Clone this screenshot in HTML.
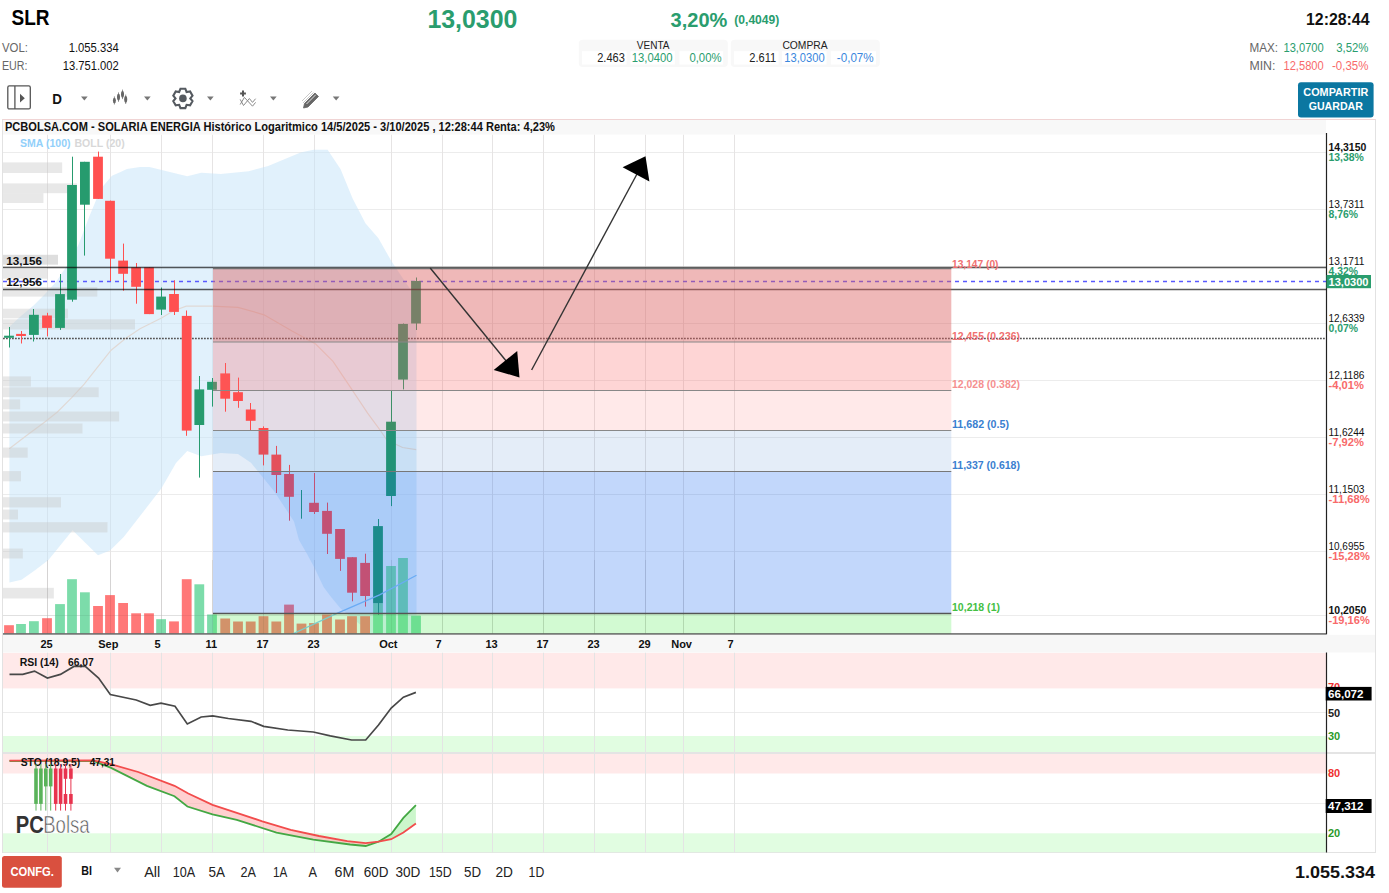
<!DOCTYPE html>
<html><head><meta charset="utf-8"><style>html,body{margin:0;padding:0;background:#fff;overflow:hidden}svg{display:block}text{font-family:"Liberation Sans",sans-serif}</style></head>
<body><svg width="1389" height="893" viewBox="0 0 1389 893" font-family="Liberation Sans, sans-serif"><text x="11.5" y="25.3" font-size="22" font-weight="bold" fill="#000" text-anchor="start" textLength="38" lengthAdjust="spacingAndGlyphs" >SLR</text>
<text x="2" y="51.5" font-size="12" font-weight="normal" fill="#666" text-anchor="start" textLength="26" lengthAdjust="spacingAndGlyphs" >VOL:</text>
<text x="118.7" y="51.5" font-size="12" font-weight="normal" fill="#111" text-anchor="end" textLength="50" lengthAdjust="spacingAndGlyphs" >1.055.334</text>
<text x="2" y="69.8" font-size="12" font-weight="normal" fill="#666" text-anchor="start" textLength="25.5" lengthAdjust="spacingAndGlyphs" >EUR:</text>
<text x="118.7" y="69.8" font-size="12" font-weight="normal" fill="#111" text-anchor="end" textLength="56" lengthAdjust="spacingAndGlyphs" >13.751.002</text>
<text x="427.4" y="27.5" font-size="25" font-weight="bold" fill="#2a9d6e" text-anchor="start" textLength="90" lengthAdjust="spacingAndGlyphs" >13,0300</text>
<text x="670.6" y="26.7" font-size="21" font-weight="bold" fill="#2a9d6e" text-anchor="start" textLength="56.7" lengthAdjust="spacingAndGlyphs" >3,20%</text>
<text x="734.3" y="23.9" font-size="12" font-weight="bold" fill="#2a9d6e" text-anchor="start" textLength="45" lengthAdjust="spacingAndGlyphs" >(0,4049)</text>
<text x="1369.5" y="24.6" font-size="16" font-weight="bold" fill="#111" text-anchor="end" textLength="63.5" lengthAdjust="spacingAndGlyphs" >12:28:44</text>
<rect x="578.8" y="39.7" width="149" height="27.2" rx="4" fill="#f8f8f8"/>
<text x="636.8" y="48.9" font-size="11" font-weight="normal" fill="#222" text-anchor="start" textLength="32.7" lengthAdjust="spacingAndGlyphs" >VENTA</text>
<rect x="582" y="51.2" width="44.5" height="13.4" fill="#fff"/>
<text x="624.8" y="62.3" font-size="12" font-weight="normal" fill="#222" text-anchor="end" textLength="27.6" lengthAdjust="spacingAndGlyphs" >2.463</text>
<rect x="630.4" y="51.2" width="44.39999999999998" height="13.4" fill="#fff"/>
<text x="672.5" y="62.3" font-size="12" font-weight="normal" fill="#2a9d6e" text-anchor="end" textLength="40.7" lengthAdjust="spacingAndGlyphs" >13,0400</text>
<rect x="679.4" y="51.2" width="43.80000000000007" height="13.4" fill="#fff"/>
<text x="721.6" y="62.3" font-size="12" font-weight="normal" fill="#2a9d6e" text-anchor="end" textLength="32.2" lengthAdjust="spacingAndGlyphs" >0,00%</text>
<rect x="730.8" y="39.7" width="149" height="27.2" rx="4" fill="#f8f8f8"/>
<text x="782.4" y="48.9" font-size="11" font-weight="normal" fill="#222" text-anchor="start" textLength="45.2" lengthAdjust="spacingAndGlyphs" >COMPRA</text>
<rect x="734" y="51.2" width="44.5" height="13.4" fill="#fff"/>
<text x="776.2" y="62.3" font-size="12" font-weight="normal" fill="#222" text-anchor="end" textLength="26.9" lengthAdjust="spacingAndGlyphs" >2.611</text>
<rect x="782" y="51.2" width="44.5" height="13.4" fill="#fff"/>
<text x="824.6" y="62.3" font-size="12" font-weight="normal" fill="#3a87dd" text-anchor="end" textLength="40.3" lengthAdjust="spacingAndGlyphs" >13,0300</text>
<rect x="830.8" y="51.2" width="45.200000000000045" height="13.4" fill="#fff"/>
<text x="873.7" y="62.3" font-size="12" font-weight="normal" fill="#3a87dd" text-anchor="end" textLength="36.9" lengthAdjust="spacingAndGlyphs" >-0,07%</text>
<text x="1249.4" y="51.6" font-size="12" font-weight="normal" fill="#666" text-anchor="start" textLength="28.6" lengthAdjust="spacingAndGlyphs" >MAX:</text>
<text x="1323.7" y="51.6" font-size="12" font-weight="normal" fill="#2a9d6e" text-anchor="end" textLength="40.2" lengthAdjust="spacingAndGlyphs" >13,0700</text>
<text x="1368.4" y="51.6" font-size="12" font-weight="normal" fill="#2a9d6e" text-anchor="end" textLength="32.2" lengthAdjust="spacingAndGlyphs" >3,52%</text>
<text x="1249.4" y="69.7" font-size="12" font-weight="normal" fill="#666" text-anchor="start" textLength="26" lengthAdjust="spacingAndGlyphs" >MIN:</text>
<text x="1323.7" y="69.7" font-size="12" font-weight="normal" fill="#f86a6a" text-anchor="end" textLength="40.2" lengthAdjust="spacingAndGlyphs" >12,5800</text>
<text x="1368.4" y="69.7" font-size="12" font-weight="normal" fill="#f86a6a" text-anchor="end" textLength="36.4" lengthAdjust="spacingAndGlyphs" >-0,35%</text>
<rect x="1298" y="82.2" width="75.6" height="35.4" rx="3" fill="#0b77a1"/>
<text x="1335.8" y="96.1" font-size="10.5" font-weight="bold" fill="#fff" text-anchor="middle" textLength="64.9" lengthAdjust="spacingAndGlyphs" >COMPARTIR</text>
<text x="1335.8" y="109.7" font-size="10.5" font-weight="bold" fill="#fff" text-anchor="middle" textLength="54.2" lengthAdjust="spacingAndGlyphs" >GUARDAR</text>
<rect x="7.8" y="85.9" width="22.5" height="23" rx="1.5" fill="none" stroke="#555" stroke-width="1.3"/>
<line x1="14.9" y1="86" x2="14.9" y2="109" stroke="#555" stroke-width="1.3"/>
<path d="M20 93.7 L24.8 98.2 L20 102.6 Z" fill="#555"/>
<text x="52.3" y="103.6" font-size="14" font-weight="bold" fill="#111" text-anchor="start" textLength="9.7" lengthAdjust="spacingAndGlyphs" >D</text>
<path d="M81 96.4 L87.7 96.4 L84.35 100.5 Z" fill="#777"/>
<path d="M144 96.4 L150.7 96.4 L147.35 100.5 Z" fill="#777"/>
<path d="M207 96.4 L213.7 96.4 L210.35 100.5 Z" fill="#777"/>
<path d="M270 96.4 L276.7 96.4 L273.35 100.5 Z" fill="#777"/>
<path d="M332.8 96.4 L339.5 96.4 L336.15000000000003 100.5 Z" fill="#777"/>
<line x1="114.4" y1="96.4" x2="114.4" y2="104.5" stroke="#777" stroke-width="0.8"/>
<ellipse cx="114.4" cy="100.45" rx="1.5" ry="2.75" fill="#666"/>
<line x1="118.5" y1="92.4" x2="118.5" y2="101.8" stroke="#777" stroke-width="0.8"/>
<ellipse cx="118.5" cy="97.1" rx="1.5" ry="3.40" fill="#666"/>
<line x1="122.5" y1="89.6" x2="122.5" y2="99.1" stroke="#777" stroke-width="0.8"/>
<ellipse cx="122.5" cy="94.35" rx="1.5" ry="3.45" fill="#666"/>
<line x1="125.7" y1="94.6" x2="125.7" y2="104" stroke="#777" stroke-width="0.8"/>
<ellipse cx="125.7" cy="99.3" rx="1.5" ry="3.40" fill="#666"/>
<polygon points="179.20,91.99 180.48,88.70 185.32,88.70 186.60,91.99 186.60,91.99 190.09,91.45 192.51,95.64 190.30,98.40 190.30,98.40 192.51,101.16 190.09,105.35 186.60,104.81 186.60,104.81 185.32,108.10 180.48,108.10 179.20,104.81 179.20,104.81 175.71,105.35 173.29,101.16 175.50,98.40 175.50,98.40 173.29,95.64 175.71,91.45 179.20,91.99" fill="none" stroke="#555a60" stroke-width="2.1" stroke-linejoin="miter"/>
<circle cx="182.9" cy="98.4" r="3.8" fill="#555a60"/>
<path d="M240.1 93.5 h5.8 M243 90.6 v5.8" stroke="#555" stroke-width="2"/>
<path d="M240.2 104.5 L244.4 97.4 L252.5 106.2 L255.6 102.4" fill="none" stroke="#8a8a8a" stroke-width="1"/>
<path d="M240.2 99.4 L243.5 105.5 L249.4 98.5 L252.5 102.4 L255.6 98.7" fill="none" stroke="#8a8a8a" stroke-width="1"/>
<path d="M304.5 103.5 L315 93 L318.5 96.5 L308 107 L303.5 108 Z" fill="#666" stroke="#666" stroke-width="0.8" stroke-linejoin="round"/>
<path d="M306.5 104 L315.8 94.7" stroke="#fff" stroke-width="0.8"/>
<path d="M302 101 L312 91 M303 103 L313.5 92.5" stroke="#bbb" stroke-width="0.8"/>
<rect x="2.5" y="119.5" width="1373" height="733" fill="#fff" stroke="#e2e2e2" stroke-width="1"/>
<line x1="2.5" y1="119.5" x2="1375.5" y2="119.5" stroke="#f0d4d4" stroke-width="1.2"/>
<rect x="3" y="120" width="1323" height="14.5" fill="#f8f8f8"/>
<defs><clipPath id="plot"><rect x="3" y="134.5" width="1323" height="499.5"/></clipPath><clipPath id="rsi"><rect x="3" y="652.5" width="1323" height="100"/></clipPath><clipPath id="sto"><rect x="3" y="754" width="1323" height="98.5"/></clipPath></defs>
<g clip-path="url(#plot)">
<line x1="3" y1="152.5" x2="1326" y2="152.5" stroke="#ececec" stroke-width="1"/>
<line x1="3" y1="209.5" x2="1326" y2="209.5" stroke="#ececec" stroke-width="1"/>
<line x1="3" y1="266.5" x2="1326" y2="266.5" stroke="#ececec" stroke-width="1"/>
<line x1="3" y1="323.5" x2="1326" y2="323.5" stroke="#ececec" stroke-width="1"/>
<line x1="3" y1="380.5" x2="1326" y2="380.5" stroke="#ececec" stroke-width="1"/>
<line x1="3" y1="437.5" x2="1326" y2="437.5" stroke="#ececec" stroke-width="1"/>
<line x1="3" y1="494.5" x2="1326" y2="494.5" stroke="#ececec" stroke-width="1"/>
<line x1="3" y1="551.5" x2="1326" y2="551.5" stroke="#ececec" stroke-width="1"/>
<line x1="3" y1="615.5" x2="1326" y2="615.5" stroke="#ececec" stroke-width="1"/>
<line x1="47.5" y1="134.5" x2="47.5" y2="634" stroke="#e6e4e4" stroke-width="1"/>
<line x1="110.5" y1="134.5" x2="110.5" y2="634" stroke="#e6e4e4" stroke-width="1"/>
<line x1="161.5" y1="134.5" x2="161.5" y2="634" stroke="#e6e4e4" stroke-width="1"/>
<line x1="212.5" y1="134.5" x2="212.5" y2="634" stroke="#e6e4e4" stroke-width="1"/>
<line x1="263.5" y1="134.5" x2="263.5" y2="634" stroke="#e6e4e4" stroke-width="1"/>
<line x1="314.5" y1="134.5" x2="314.5" y2="634" stroke="#e6e4e4" stroke-width="1"/>
<line x1="391.5" y1="134.5" x2="391.5" y2="634" stroke="#e6e4e4" stroke-width="1"/>
<line x1="442.5" y1="134.5" x2="442.5" y2="634" stroke="#e6e4e4" stroke-width="1"/>
<line x1="492.5" y1="134.5" x2="492.5" y2="634" stroke="#e6e4e4" stroke-width="1"/>
<line x1="543.5" y1="134.5" x2="543.5" y2="634" stroke="#e6e4e4" stroke-width="1"/>
<line x1="594.5" y1="134.5" x2="594.5" y2="634" stroke="#e6e4e4" stroke-width="1"/>
<line x1="645.5" y1="134.5" x2="645.5" y2="634" stroke="#e6e4e4" stroke-width="1"/>
<line x1="683.5" y1="134.5" x2="683.5" y2="634" stroke="#e6e4e4" stroke-width="1"/>
<line x1="734.5" y1="134.5" x2="734.5" y2="634" stroke="#e6e4e4" stroke-width="1"/>
<polygon points="9.4,326.8 20.1,316.7 33.6,305.5 44.8,294.3 56,282 67.2,265.2 78.4,245 89.5,216 100.7,189 112,175.7 120,172.3 127,169 140,167 149.4,167 187.2,176.3 201.3,172.8 220.7,174.1 248.8,171.3 268.2,165.9 300.6,152.5 313.6,149.7 327.6,149.7 340.6,169.2 352.5,198.3 365.4,223.2 378.4,238.3 391.3,261 404.3,280.4 416.5,298 416.5,700 380,642 370.6,633 352.7,618.4 340.4,608.3 330.3,596 323.6,587 314.6,568 306.8,553.4 299,540 294,521.4 274,491 251,462.8 238,454.1 220.7,453 201.3,456.3 187.2,451 176,463 161.3,488.6 123.7,537 110,550.4 98,555.3 72.6,530.3 48.4,560 35,570.3 21.5,579.7 9.4,582.4" fill="#c3e3f9" fill-opacity="0.5"/>
<polyline points="9.3,448.8 26.9,435.3 44.8,421.9 57.4,412 71.7,397.7 84.2,384.2 96.8,368.1 111.1,350.2 125.5,338.5 140,328.7 161.5,318 173.2,311 186.2,306.2 212,306.2 238,307.3 264,314.8 292,331 315.7,344 333,361.3 350.3,387.2 367.6,413.1 380,430 386.9,440 402.5,447.5 416.2,449.6" fill="none" stroke="#e0d9d5" stroke-width="1.2"/>
<rect x="3" y="162.4" width="59.2" height="10.599999999999994" fill="#c8c8c8" fill-opacity="0.42"/>
<rect x="3" y="183.4" width="74" height="9.799999999999983" fill="#c8c8c8" fill-opacity="0.42"/>
<rect x="3" y="193.2" width="40.4" height="9.800000000000011" fill="#c8c8c8" fill-opacity="0.42"/>
<rect x="3" y="254.8" width="55" height="9.800000000000011" fill="#c8c8c8" fill-opacity="0.42"/>
<rect x="3" y="269" width="44.4" height="9.699999999999989" fill="#c8c8c8" fill-opacity="0.42"/>
<rect x="3" y="287" width="94.3" height="9.600000000000023" fill="#c8c8c8" fill-opacity="0.42"/>
<rect x="3" y="308.7" width="65" height="9.600000000000023" fill="#c8c8c8" fill-opacity="0.42"/>
<rect x="3" y="319.3" width="132" height="10.099999999999966" fill="#c8c8c8" fill-opacity="0.42"/>
<rect x="3" y="376.4" width="27.9" height="10.100000000000023" fill="#c8c8c8" fill-opacity="0.42"/>
<rect x="3" y="387.3" width="95.7" height="9.899999999999977" fill="#c8c8c8" fill-opacity="0.42"/>
<rect x="3" y="399.4" width="17.2" height="9.900000000000034" fill="#c8c8c8" fill-opacity="0.42"/>
<rect x="3" y="411.5" width="116.1" height="9.899999999999977" fill="#c8c8c8" fill-opacity="0.42"/>
<rect x="3" y="423.5" width="79.5" height="10.0" fill="#c8c8c8" fill-opacity="0.42"/>
<rect x="3" y="447.5" width="24.7" height="10.199999999999989" fill="#c8c8c8" fill-opacity="0.42"/>
<rect x="3" y="471.1" width="18" height="10.199999999999989" fill="#c8c8c8" fill-opacity="0.42"/>
<rect x="3" y="497.2" width="58" height="10.199999999999989" fill="#c8c8c8" fill-opacity="0.42"/>
<rect x="3" y="509.6" width="15" height="9.899999999999977" fill="#c8c8c8" fill-opacity="0.42"/>
<rect x="3" y="522.2" width="104.5" height="10.199999999999932" fill="#c8c8c8" fill-opacity="0.42"/>
<rect x="3" y="548.6" width="19.8" height="9.899999999999977" fill="#c8c8c8" fill-opacity="0.42"/>
<rect x="3" y="587.8" width="50.8" height="10.700000000000045" fill="#c8c8c8" fill-opacity="0.42"/>
<line x1="3" y1="281.5" x2="1326" y2="281.5" stroke="#5a5aff" stroke-width="1.3" stroke-dasharray="4,4"/>
<line x1="3" y1="338.5" x2="1326" y2="338.5" stroke="#555" stroke-width="1.3" stroke-dasharray="1.8,1.2"/>
<rect x="4.1" y="625.2" width="9.8" height="8.299999999999955" fill="#ff7878"/>
<rect x="16.1" y="624" width="9.8" height="9.5" fill="#7cdcaa"/>
<rect x="29.0" y="621.2" width="9.8" height="12.299999999999955" fill="#7cdcaa"/>
<rect x="42.1" y="618.2" width="9.8" height="15.299999999999955" fill="#ff7878"/>
<rect x="55.1" y="604.1" width="9.8" height="29.399999999999977" fill="#7cdcaa"/>
<rect x="67.1" y="579.2" width="9.8" height="54.299999999999955" fill="#7cdcaa"/>
<rect x="80.0" y="592.3" width="9.8" height="41.200000000000045" fill="#7cdcaa"/>
<rect x="93.1" y="606" width="9.8" height="27.5" fill="#ff7878"/>
<rect x="105.1" y="595.1" width="9.8" height="38.39999999999998" fill="#ff7878"/>
<rect x="118.2" y="603" width="9.8" height="30.5" fill="#ff7878"/>
<rect x="131.2" y="613.3" width="9.8" height="20.200000000000045" fill="#ff7878"/>
<rect x="144.1" y="613.3" width="9.8" height="20.200000000000045" fill="#ff7878"/>
<rect x="156.2" y="619.2" width="9.8" height="14.299999999999955" fill="#7cdcaa"/>
<rect x="169.1" y="621.4" width="9.8" height="12.100000000000023" fill="#ff7878"/>
<rect x="181.8" y="579.2" width="9.8" height="54.299999999999955" fill="#ff7878"/>
<rect x="194.4" y="584.3" width="9.8" height="49.200000000000045" fill="#7cdcaa"/>
<rect x="207.1" y="614.5" width="9.8" height="19.0" fill="#7cdcaa"/>
<rect x="220.3" y="618.5" width="9.8" height="15.0" fill="#ff7878"/>
<rect x="233.1" y="621.5" width="9.8" height="12.0" fill="#ff7878"/>
<rect x="245.8" y="621.5" width="9.8" height="12.0" fill="#ff7878"/>
<rect x="258.6" y="616.2" width="9.8" height="17.299999999999955" fill="#ff7878"/>
<rect x="271.4" y="621.5" width="9.8" height="12.0" fill="#ff7878"/>
<rect x="284.1" y="604.6" width="9.8" height="28.899999999999977" fill="#ff7878"/>
<rect x="296.6" y="623.6" width="9.8" height="9.899999999999977" fill="#ff7878"/>
<rect x="309.1" y="623.1" width="9.8" height="10.399999999999977" fill="#ff7878"/>
<rect x="322.1" y="614.5" width="9.8" height="19.0" fill="#ff7878"/>
<rect x="335.1" y="619.5" width="9.8" height="14.0" fill="#ff7878"/>
<rect x="347.1" y="616.2" width="9.8" height="17.299999999999955" fill="#ff7878"/>
<rect x="360.2" y="616.2" width="9.8" height="17.299999999999955" fill="#ff7878"/>
<rect x="373.1" y="603.2" width="9.8" height="30.299999999999955" fill="#7cdcaa"/>
<rect x="386.1" y="566" width="9.8" height="67.5" fill="#7cdcaa"/>
<rect x="398.1" y="558" width="9.8" height="75.5" fill="#7cdcaa"/>
<rect x="411.1" y="615.7" width="9.8" height="17.799999999999955" fill="#7cdcaa"/>
<line x1="47.5" y1="560" x2="47.5" y2="633" stroke="#000" stroke-opacity="0.07" stroke-width="1"/>
<line x1="110.5" y1="560" x2="110.5" y2="633" stroke="#000" stroke-opacity="0.07" stroke-width="1"/>
<line x1="161.5" y1="560" x2="161.5" y2="633" stroke="#000" stroke-opacity="0.07" stroke-width="1"/>
<line x1="212.5" y1="560" x2="212.5" y2="633" stroke="#000" stroke-opacity="0.07" stroke-width="1"/>
<line x1="263.5" y1="560" x2="263.5" y2="633" stroke="#000" stroke-opacity="0.07" stroke-width="1"/>
<line x1="314.5" y1="560" x2="314.5" y2="633" stroke="#000" stroke-opacity="0.07" stroke-width="1"/>
<line x1="391.5" y1="560" x2="391.5" y2="633" stroke="#000" stroke-opacity="0.07" stroke-width="1"/>
<line x1="442.5" y1="560" x2="442.5" y2="633" stroke="#000" stroke-opacity="0.07" stroke-width="1"/>
<line x1="492.5" y1="560" x2="492.5" y2="633" stroke="#000" stroke-opacity="0.07" stroke-width="1"/>
<line x1="543.5" y1="560" x2="543.5" y2="633" stroke="#000" stroke-opacity="0.07" stroke-width="1"/>
<line x1="594.5" y1="560" x2="594.5" y2="633" stroke="#000" stroke-opacity="0.07" stroke-width="1"/>
<line x1="645.5" y1="560" x2="645.5" y2="633" stroke="#000" stroke-opacity="0.07" stroke-width="1"/>
<line x1="683.5" y1="560" x2="683.5" y2="633" stroke="#000" stroke-opacity="0.07" stroke-width="1"/>
<line x1="734.5" y1="560" x2="734.5" y2="633" stroke="#000" stroke-opacity="0.07" stroke-width="1"/>
<line x1="3" y1="615.5" x2="420" y2="615.5" stroke="#000" stroke-opacity="0.05" stroke-width="1"/>
<line x1="9.5" y1="327" x2="9.5" y2="347.5" stroke="#269b6e" stroke-width="1"/>
<rect x="4.1" y="335.7" width="9.8" height="2.1000000000000227" fill="#269b6e"/>
<line x1="21.5" y1="331" x2="21.5" y2="343.5" stroke="#ff5050" stroke-width="1"/>
<rect x="16.1" y="333.9" width="9.8" height="2.1000000000000227" fill="#ff5050"/>
<line x1="33.5" y1="309" x2="33.5" y2="341.5" stroke="#269b6e" stroke-width="1"/>
<rect x="29.0" y="314.8" width="9.8" height="20.099999999999966" fill="#269b6e"/>
<line x1="47.5" y1="312.8" x2="47.5" y2="336.4" stroke="#ff5050" stroke-width="1"/>
<rect x="42.1" y="315.5" width="9.8" height="12.399999999999977" fill="#ff5050"/>
<line x1="60.5" y1="274" x2="60.5" y2="329.9" stroke="#269b6e" stroke-width="1"/>
<rect x="55.1" y="294.1" width="9.8" height="33.799999999999955" fill="#269b6e"/>
<line x1="72.5" y1="156.7" x2="72.5" y2="301.7" stroke="#269b6e" stroke-width="1"/>
<rect x="67.1" y="185" width="9.8" height="114.69999999999999" fill="#269b6e"/>
<line x1="84.5" y1="161.8" x2="84.5" y2="255.6" stroke="#269b6e" stroke-width="1"/>
<rect x="80.0" y="161.8" width="9.8" height="42.89999999999998" fill="#269b6e"/>
<line x1="98.5" y1="151.6" x2="98.5" y2="198.9" stroke="#ff5050" stroke-width="1"/>
<rect x="93.1" y="156.7" width="9.8" height="42.20000000000002" fill="#ff5050"/>
<line x1="110.5" y1="200.6" x2="110.5" y2="281" stroke="#ff5050" stroke-width="1"/>
<rect x="105.1" y="200.8" width="9.8" height="57.89999999999998" fill="#ff5050"/>
<line x1="123.5" y1="243.6" x2="123.5" y2="290.7" stroke="#ff5050" stroke-width="1"/>
<rect x="118.2" y="260.6" width="9.8" height="13.199999999999989" fill="#ff5050"/>
<line x1="136.5" y1="263" x2="136.5" y2="303.7" stroke="#ff5050" stroke-width="1"/>
<rect x="131.2" y="267.3" width="9.8" height="19.5" fill="#ff5050"/>
<line x1="149.5" y1="267.3" x2="149.5" y2="314.1" stroke="#ff5050" stroke-width="1"/>
<rect x="144.1" y="267.3" width="9.8" height="46.80000000000001" fill="#ff5050"/>
<line x1="161.5" y1="287.5" x2="161.5" y2="315" stroke="#269b6e" stroke-width="1"/>
<rect x="156.2" y="296.6" width="9.8" height="13.0" fill="#269b6e"/>
<line x1="174.5" y1="280.3" x2="174.5" y2="315" stroke="#ff5050" stroke-width="1"/>
<rect x="169.1" y="294" width="9.8" height="17.899999999999977" fill="#ff5050"/>
<line x1="186.5" y1="310.5" x2="186.5" y2="435.8" stroke="#ff5050" stroke-width="1"/>
<rect x="181.8" y="315.9" width="9.8" height="114.70000000000005" fill="#ff5050"/>
<line x1="199.5" y1="376" x2="199.5" y2="477.6" stroke="#269b6e" stroke-width="1"/>
<rect x="194.4" y="389.4" width="9.8" height="35.60000000000002" fill="#269b6e"/>
<line x1="212.5" y1="378" x2="212.5" y2="406.6" stroke="#269b6e" stroke-width="1"/>
<rect x="207.1" y="381.8" width="9.8" height="8.0" fill="#269b6e"/>
<line x1="225.5" y1="363" x2="225.5" y2="411.7" stroke="#ff5050" stroke-width="1"/>
<rect x="220.3" y="373.4" width="9.8" height="25.30000000000001" fill="#ff5050"/>
<line x1="238.5" y1="377.6" x2="238.5" y2="407.8" stroke="#ff5050" stroke-width="1"/>
<rect x="233.1" y="392.2" width="9.8" height="8.800000000000011" fill="#ff5050"/>
<line x1="250.5" y1="403" x2="250.5" y2="430.6" stroke="#ff5050" stroke-width="1"/>
<rect x="245.8" y="409.5" width="9.8" height="11.300000000000011" fill="#ff5050"/>
<line x1="263.5" y1="426.4" x2="263.5" y2="465.4" stroke="#ff5050" stroke-width="1"/>
<rect x="258.6" y="428" width="9.8" height="26.600000000000023" fill="#ff5050"/>
<line x1="276.5" y1="445.9" x2="276.5" y2="493" stroke="#ff5050" stroke-width="1"/>
<rect x="271.4" y="454.6" width="9.8" height="20.399999999999977" fill="#ff5050"/>
<line x1="289.5" y1="464.9" x2="289.5" y2="520.7" stroke="#ff5050" stroke-width="1"/>
<rect x="284.1" y="474" width="9.8" height="22.80000000000001" fill="#ff5050"/>
<line x1="301.5" y1="490" x2="301.5" y2="518.7" stroke="#269b6e" stroke-width="1"/>
<line x1="314.5" y1="473" x2="314.5" y2="514" stroke="#ff5050" stroke-width="1"/>
<rect x="309.1" y="502.8" width="9.8" height="9.199999999999989" fill="#ff5050"/>
<line x1="327.5" y1="502.6" x2="327.5" y2="554" stroke="#ff5050" stroke-width="1"/>
<rect x="322.1" y="510.9" width="9.8" height="22.899999999999977" fill="#ff5050"/>
<line x1="340.5" y1="529" x2="340.5" y2="570.9" stroke="#ff5050" stroke-width="1"/>
<rect x="335.1" y="529" width="9.8" height="29.899999999999977" fill="#ff5050"/>
<line x1="352.5" y1="557.2" x2="352.5" y2="601.3" stroke="#ff5050" stroke-width="1"/>
<rect x="347.1" y="557.2" width="9.8" height="35.5" fill="#ff5050"/>
<line x1="365.5" y1="553.7" x2="365.5" y2="606.6" stroke="#ff5050" stroke-width="1"/>
<rect x="360.2" y="562.9" width="9.8" height="33.10000000000002" fill="#ff5050"/>
<line x1="378.5" y1="519" x2="378.5" y2="614.8" stroke="#269b6e" stroke-width="1"/>
<rect x="373.1" y="526.1" width="9.8" height="77.10000000000002" fill="#269b6e"/>
<line x1="391.5" y1="390.5" x2="391.5" y2="506.1" stroke="#269b6e" stroke-width="1"/>
<rect x="386.1" y="421.7" width="9.8" height="74.30000000000001" fill="#269b6e"/>
<line x1="403.5" y1="323.5" x2="403.5" y2="389.4" stroke="#269b6e" stroke-width="1"/>
<rect x="398.1" y="323.9" width="9.8" height="55.700000000000045" fill="#269b6e"/>
<line x1="416.5" y1="277.5" x2="416.5" y2="330" stroke="#269b6e" stroke-width="1"/>
<rect x="411.1" y="281" width="9.8" height="42.5" fill="#269b6e"/>
<polyline points="290,635 293.4,633.5 337,613.3 379.6,594.9 416.5,575.3" fill="none" stroke="#8cc6f6" stroke-width="1.3"/>
<line x1="3" y1="267.5" x2="1326" y2="267.5" stroke="#000" stroke-opacity="0.65" stroke-width="1.4"/>
<line x1="3" y1="289.5" x2="1326" y2="289.5" stroke="#000" stroke-opacity="0.65" stroke-width="1.4"/>
<rect x="213" y="268" width="738.3" height="74" fill="#dc6262" fill-opacity="0.45"/>
<rect x="213" y="342" width="738.3" height="48.5" fill="#fb6262" fill-opacity="0.267"/>
<rect x="213" y="390.5" width="738.3" height="40.0" fill="#ff3636" fill-opacity="0.11"/>
<rect x="213" y="430.5" width="738.3" height="41.0" fill="#0055bd" fill-opacity="0.106"/>
<rect x="213" y="471.5" width="738.3" height="142.0" fill="#0058ee" fill-opacity="0.24"/>
<rect x="213" y="613.5" width="738.3" height="20.5" fill="#41ea41" fill-opacity="0.237"/>
<line x1="213" y1="268.5" x2="951.3" y2="268.5" stroke="#707070" stroke-width="1.3"/>
<line x1="213" y1="342" x2="951.3" y2="342" stroke="#888" stroke-width="1.2"/>
<line x1="213" y1="390.5" x2="951.3" y2="390.5" stroke="#888" stroke-width="1.2"/>
<line x1="213" y1="430.5" x2="951.3" y2="430.5" stroke="#888" stroke-width="1.2"/>
<line x1="213" y1="471.5" x2="951.3" y2="471.5" stroke="#777" stroke-width="1.2"/>
<line x1="213" y1="613.5" x2="951.3" y2="613.5" stroke="#555" stroke-width="1.3"/>
<rect x="3" y="254.8" width="55" height="9.8" fill="#c8c8c8" fill-opacity="0.3"/>
<text x="6.2" y="264.6" font-size="11.5" font-weight="bold" fill="#111" text-anchor="start" textLength="35.7" lengthAdjust="spacingAndGlyphs" >13,156</text>
<text x="6.2" y="286.1" font-size="11.5" font-weight="bold" fill="#111" text-anchor="start" textLength="35.7" lengthAdjust="spacingAndGlyphs" >12,956</text>
<line x1="430.2" y1="268" x2="507" y2="362" stroke="#333" stroke-width="1.4"/>
<polygon points="517.2,351.1 493.7,369.9 519.5,377.5" fill="#000"/>
<line x1="531.6" y1="370" x2="637" y2="174" stroke="#333" stroke-width="1.4"/>
<polygon points="645.5,156.2 622.6,167.2 649.4,181.4" fill="#000"/>
<text x="952" y="268" font-size="11" font-weight="bold" fill="#f07070" text-anchor="start" textLength="46.5" lengthAdjust="spacingAndGlyphs" >13,147 (0)</text>
<text x="952" y="340" font-size="11" font-weight="bold" fill="#f07070" text-anchor="start" textLength="68" lengthAdjust="spacingAndGlyphs" >12,455 (0.236)</text>
<text x="952" y="388" font-size="11" font-weight="bold" fill="#f59090" text-anchor="start" textLength="68" lengthAdjust="spacingAndGlyphs" >12,028 (0.382)</text>
<text x="952" y="428" font-size="11" font-weight="bold" fill="#3a80d0" text-anchor="start" textLength="57" lengthAdjust="spacingAndGlyphs" >11,682 (0.5)</text>
<text x="952" y="469" font-size="11" font-weight="bold" fill="#3a80d0" text-anchor="start" textLength="68" lengthAdjust="spacingAndGlyphs" >11,337 (0.618)</text>
<text x="952" y="611" font-size="11" font-weight="bold" fill="#44c044" text-anchor="start" textLength="48" lengthAdjust="spacingAndGlyphs" >10,218 (1)</text>
</g>
<text x="4.9" y="131" font-size="12" font-weight="bold" fill="#111" text-anchor="start" textLength="550" lengthAdjust="spacingAndGlyphs" >PCBOLSA.COM - SOLARIA ENERGIA Histórico Logaritmico 14/5/2025 - 3/10/2025 , 12:28:44 Renta: 4,23%</text>
<text x="20" y="146.9" font-size="11" font-weight="bold" fill="#92d0fa" text-anchor="start" textLength="50.5" lengthAdjust="spacingAndGlyphs" >SMA (100)</text>
<text x="74.5" y="147.3" font-size="11" font-weight="bold" fill="#d8d8d8" text-anchor="start" textLength="50.2" lengthAdjust="spacingAndGlyphs" >BOLL (20)</text>
<line x1="1326.5" y1="133" x2="1326.5" y2="634.5" stroke="#222" stroke-width="1.2"/>
<line x1="3" y1="634" x2="1326" y2="634" stroke="#555" stroke-width="1.6"/>
<text x="1328.5" y="150.9" font-size="11" font-weight="bold" fill="#111" text-anchor="start" textLength="37.8" lengthAdjust="spacingAndGlyphs" >14,3150</text>
<text x="1328.5" y="161.3" font-size="11" font-weight="bold" fill="#2a9d6e" text-anchor="start" textLength="35.4" lengthAdjust="spacingAndGlyphs" >13,38%</text>
<text x="1328.5" y="207.9" font-size="11" font-weight="normal" fill="#111" text-anchor="start" textLength="36" lengthAdjust="spacingAndGlyphs" >13,7311</text>
<text x="1328.5" y="218.3" font-size="11" font-weight="bold" fill="#2a9d6e" text-anchor="start" textLength="29.5" lengthAdjust="spacingAndGlyphs" >8,76%</text>
<text x="1328.5" y="264.90000000000003" font-size="11" font-weight="normal" fill="#111" text-anchor="start" textLength="36" lengthAdjust="spacingAndGlyphs" >13,1711</text>
<text x="1328.5" y="275.3" font-size="11" font-weight="bold" fill="#2a9d6e" text-anchor="start" textLength="29.5" lengthAdjust="spacingAndGlyphs" >4,32%</text>
<text x="1328.5" y="321.90000000000003" font-size="11" font-weight="normal" fill="#111" text-anchor="start" textLength="36" lengthAdjust="spacingAndGlyphs" >12,6339</text>
<text x="1328.5" y="332.3" font-size="11" font-weight="bold" fill="#2a9d6e" text-anchor="start" textLength="29.5" lengthAdjust="spacingAndGlyphs" >0,07%</text>
<text x="1328.5" y="378.90000000000003" font-size="11" font-weight="normal" fill="#111" text-anchor="start" textLength="36" lengthAdjust="spacingAndGlyphs" >12,1186</text>
<text x="1328.5" y="389.3" font-size="11" font-weight="bold" fill="#f86a6a" text-anchor="start" textLength="35.4" lengthAdjust="spacingAndGlyphs" >-4,01%</text>
<text x="1328.5" y="435.90000000000003" font-size="11" font-weight="normal" fill="#111" text-anchor="start" textLength="36" lengthAdjust="spacingAndGlyphs" >11,6244</text>
<text x="1328.5" y="446.3" font-size="11" font-weight="bold" fill="#f86a6a" text-anchor="start" textLength="35.4" lengthAdjust="spacingAndGlyphs" >-7,92%</text>
<text x="1328.5" y="492.90000000000003" font-size="11" font-weight="normal" fill="#111" text-anchor="start" textLength="36" lengthAdjust="spacingAndGlyphs" >11,1503</text>
<text x="1328.5" y="503.3" font-size="11" font-weight="bold" fill="#f86a6a" text-anchor="start" textLength="41.3" lengthAdjust="spacingAndGlyphs" >-11,68%</text>
<text x="1328.5" y="549.9" font-size="11" font-weight="normal" fill="#111" text-anchor="start" textLength="36" lengthAdjust="spacingAndGlyphs" >10,6955</text>
<text x="1328.5" y="560.3" font-size="11" font-weight="bold" fill="#f86a6a" text-anchor="start" textLength="41.3" lengthAdjust="spacingAndGlyphs" >-15,28%</text>
<text x="1328.5" y="614.0" font-size="11" font-weight="bold" fill="#111" text-anchor="start" textLength="37.8" lengthAdjust="spacingAndGlyphs" >10,2050</text>
<text x="1328.5" y="624.4" font-size="11" font-weight="bold" fill="#f86a6a" text-anchor="start" textLength="41.3" lengthAdjust="spacingAndGlyphs" >-19,16%</text>
<rect x="1326.5" y="275" width="44.5" height="13.2" fill="#2a9d6e"/>
<text x="1328.5" y="286" font-size="11" font-weight="bold" fill="#fff" text-anchor="start" textLength="40" lengthAdjust="spacingAndGlyphs" >13,0300</text>
<rect x="3" y="634.8" width="1372" height="17.7" fill="#f7f7f7"/>
<text x="40.5" y="648.4" font-size="11" font-weight="bold" fill="#111" text-anchor="start" >25</text>
<text x="98.2" y="648.4" font-size="11" font-weight="bold" fill="#111" text-anchor="start" >Sep</text>
<text x="154.5" y="648.4" font-size="11" font-weight="bold" fill="#111" text-anchor="start" >5</text>
<text x="205.5" y="648.4" font-size="11" font-weight="bold" fill="#111" text-anchor="start" >11</text>
<text x="256.5" y="648.4" font-size="11" font-weight="bold" fill="#111" text-anchor="start" >17</text>
<text x="307.5" y="648.4" font-size="11" font-weight="bold" fill="#111" text-anchor="start" >23</text>
<text x="379.2" y="648.4" font-size="11" font-weight="bold" fill="#111" text-anchor="start" >Oct</text>
<text x="435.5" y="648.4" font-size="11" font-weight="bold" fill="#111" text-anchor="start" >7</text>
<text x="485.5" y="648.4" font-size="11" font-weight="bold" fill="#111" text-anchor="start" >13</text>
<text x="536.5" y="648.4" font-size="11" font-weight="bold" fill="#111" text-anchor="start" >17</text>
<text x="587.5" y="648.4" font-size="11" font-weight="bold" fill="#111" text-anchor="start" >23</text>
<text x="638.5" y="648.4" font-size="11" font-weight="bold" fill="#111" text-anchor="start" >29</text>
<text x="671.2" y="648.4" font-size="11" font-weight="bold" fill="#111" text-anchor="start" >Nov</text>
<text x="727.5" y="648.4" font-size="11" font-weight="bold" fill="#111" text-anchor="start" >7</text>
<g clip-path="url(#rsi)">
<rect x="3" y="652.8" width="1323" height="35.6" fill="#ffe9e9"/>
<rect x="3" y="736" width="1323" height="16" fill="#e1fde1"/>
<line x1="3" y1="712.5" x2="1326" y2="712.5" stroke="#ececec"/>
<line x1="47.5" y1="652.5" x2="47.5" y2="752" stroke="#e4e4e4" stroke-width="1"/>
<line x1="110.5" y1="652.5" x2="110.5" y2="752" stroke="#e4e4e4" stroke-width="1"/>
<line x1="161.5" y1="652.5" x2="161.5" y2="752" stroke="#e4e4e4" stroke-width="1"/>
<line x1="212.5" y1="652.5" x2="212.5" y2="752" stroke="#e4e4e4" stroke-width="1"/>
<line x1="263.5" y1="652.5" x2="263.5" y2="752" stroke="#e4e4e4" stroke-width="1"/>
<line x1="314.5" y1="652.5" x2="314.5" y2="752" stroke="#e4e4e4" stroke-width="1"/>
<line x1="391.5" y1="652.5" x2="391.5" y2="752" stroke="#e4e4e4" stroke-width="1"/>
<line x1="442.5" y1="652.5" x2="442.5" y2="752" stroke="#e4e4e4" stroke-width="1"/>
<line x1="492.5" y1="652.5" x2="492.5" y2="752" stroke="#e4e4e4" stroke-width="1"/>
<line x1="543.5" y1="652.5" x2="543.5" y2="752" stroke="#e4e4e4" stroke-width="1"/>
<line x1="594.5" y1="652.5" x2="594.5" y2="752" stroke="#e4e4e4" stroke-width="1"/>
<line x1="645.5" y1="652.5" x2="645.5" y2="752" stroke="#e4e4e4" stroke-width="1"/>
<line x1="683.5" y1="652.5" x2="683.5" y2="752" stroke="#e4e4e4" stroke-width="1"/>
<line x1="734.5" y1="652.5" x2="734.5" y2="752" stroke="#e4e4e4" stroke-width="1"/>
<polyline points="9.5,674.4 22.8,674.4 34.5,671.1 47.4,678.1 60.4,674.4 73.9,666.4 85,666.2 98.6,678.1 110.3,694.5 136.2,700 150.2,705.3 161,703.1 175,706.2 187.3,723.9 201.2,717 212.7,715.9 228.3,718.5 251,721.3 263.7,726.4 287.8,730 313.3,732 330.3,735.8 351.6,740 365.7,740 378.5,725 391.2,708 403.4,697.2 415.9,692.4" fill="none" stroke="#484848" stroke-width="1.7"/>
</g>
<text x="19.7" y="666.3" font-size="11" font-weight="bold" fill="#111" text-anchor="start" textLength="39" lengthAdjust="spacingAndGlyphs" >RSI (14)</text>
<text x="68" y="666.3" font-size="11" font-weight="bold" fill="#111" text-anchor="start" textLength="25.7" lengthAdjust="spacingAndGlyphs" >66,07</text>
<rect x="3" y="752" width="1372" height="2" fill="#e4e4e4"/>
<g clip-path="url(#sto)">
<rect x="3" y="754" width="1323" height="19.5" fill="#ffe9e9"/>
<rect x="3" y="833.3" width="1323" height="19.2" fill="#e1fde1"/>
<line x1="3" y1="803.5" x2="1326" y2="803.5" stroke="#ececec"/>
<line x1="47.5" y1="754" x2="47.5" y2="852.5" stroke="#e4e4e4" stroke-width="1"/>
<line x1="110.5" y1="754" x2="110.5" y2="852.5" stroke="#e4e4e4" stroke-width="1"/>
<line x1="161.5" y1="754" x2="161.5" y2="852.5" stroke="#e4e4e4" stroke-width="1"/>
<line x1="212.5" y1="754" x2="212.5" y2="852.5" stroke="#e4e4e4" stroke-width="1"/>
<line x1="263.5" y1="754" x2="263.5" y2="852.5" stroke="#e4e4e4" stroke-width="1"/>
<line x1="314.5" y1="754" x2="314.5" y2="852.5" stroke="#e4e4e4" stroke-width="1"/>
<line x1="391.5" y1="754" x2="391.5" y2="852.5" stroke="#e4e4e4" stroke-width="1"/>
<line x1="442.5" y1="754" x2="442.5" y2="852.5" stroke="#e4e4e4" stroke-width="1"/>
<line x1="492.5" y1="754" x2="492.5" y2="852.5" stroke="#e4e4e4" stroke-width="1"/>
<line x1="543.5" y1="754" x2="543.5" y2="852.5" stroke="#e4e4e4" stroke-width="1"/>
<line x1="594.5" y1="754" x2="594.5" y2="852.5" stroke="#e4e4e4" stroke-width="1"/>
<line x1="645.5" y1="754" x2="645.5" y2="852.5" stroke="#e4e4e4" stroke-width="1"/>
<line x1="683.5" y1="754" x2="683.5" y2="852.5" stroke="#e4e4e4" stroke-width="1"/>
<line x1="734.5" y1="754" x2="734.5" y2="852.5" stroke="#e4e4e4" stroke-width="1"/>
<polygon points="9.5,760.7 93.3,760.4 110.6,764.2 138.2,772.0 146.9,775.3 174.5,785.8 187.4,793.0 188.3,793.5 212.5,804.8 236.8,812.8 262.3,821.3 276.5,825.5 290.7,829.8 313.3,834.8 319.0,836.0 347.3,841.1 350.1,841.4 365.7,843.1 378.5,841.7 378.5,841.7 365.7,846.0 350.1,844.5 347.3,844.1 319.0,840.4 313.3,839.7 290.7,835.3 276.5,832.6 262.3,828.1 236.8,819.9 212.5,814.3 188.3,806.8 187.4,806.5 174.5,796.2 146.9,785.8 138.2,781.4 110.6,767.6 93.3,761.0 9.5,761.0" fill="#ffaaaa" fill-opacity="0.55"/>
<polygon points="378.5,841.7 391.2,834.0 403.4,817.9 415.9,805.2 415.9,823.6 403.4,832.6 391.2,839.2 378.5,841.7" fill="#aaf0aa" fill-opacity="0.6"/>
<polyline points="9.5,761 93.3,761 110.6,767.6 146.9,785.8 174.5,796.2 187.4,806.5 212.5,814.3 236.8,819.9 276.5,832.6 313.3,839.7 350.1,844.5 365.7,846 378.5,841.7 391.2,834 403.4,817.9 415.9,805.2" fill="none" stroke="#44a844" stroke-width="1.8"/>
<polyline points="9.5,760.7 93.3,760.4 110.6,764.2 138.2,772 174.5,785.8 188.3,793.5 212.5,804.8 236.8,812.8 262.3,821.3 290.7,829.8 319,836 347.3,841.1 365.7,843.1 378.5,841.7 391.2,839.2 403.4,832.6 415.9,823.6" fill="none" stroke="#f24c4c" stroke-width="1.8"/>
</g>
<text x="20.7" y="765.9" font-size="11" font-weight="bold" fill="#111" text-anchor="start" textLength="59.6" lengthAdjust="spacingAndGlyphs" >STO (18,9,5)</text>
<text x="89.8" y="765.9" font-size="11" font-weight="bold" fill="#111" text-anchor="start" textLength="25.1" lengthAdjust="spacingAndGlyphs" >47,31</text>
<line x1="36" y1="764" x2="36" y2="810.6" stroke="#5ab35a" stroke-width="1"/>
<rect x="34.2" y="768.5" width="3.6" height="35.4" fill="#5ab35a"/>
<line x1="40.9" y1="764" x2="40.9" y2="810.6" stroke="#5ab35a" stroke-width="1"/>
<rect x="39.1" y="768.5" width="3.6" height="35.4" fill="#5ab35a"/>
<line x1="45.8" y1="764" x2="45.8" y2="810.6" stroke="#5ab35a" stroke-width="1"/>
<rect x="44.0" y="768.5" width="3.6" height="17.9" fill="#5ab35a"/>
<line x1="50.7" y1="764" x2="50.7" y2="810.6" stroke="#5ab35a" stroke-width="1"/>
<rect x="48.900000000000006" y="768.5" width="3.6" height="17.9" fill="#5ab35a"/>
<line x1="55.7" y1="764" x2="55.7" y2="810.6" stroke="#e8334e" stroke-width="1"/>
<rect x="53.900000000000006" y="768.5" width="3.6" height="35.4" fill="#e8334e"/>
<line x1="60.6" y1="764" x2="60.6" y2="810.6" stroke="#e8334e" stroke-width="1"/>
<rect x="58.800000000000004" y="768.5" width="3.6" height="35.4" fill="#e8334e"/>
<line x1="65.5" y1="764" x2="65.5" y2="810.6" stroke="#e8334e" stroke-width="1"/>
<rect x="63.7" y="768.5" width="3.6" height="10.3" fill="#e8334e"/>
<rect x="63.7" y="794" width="3.6" height="9.9" fill="#e8334e"/>
<line x1="70.9" y1="764" x2="70.9" y2="810.6" stroke="#e8334e" stroke-width="1"/>
<rect x="69.10000000000001" y="768.5" width="3.6" height="10.3" fill="#e8334e"/>
<rect x="69.10000000000001" y="794" width="3.6" height="9.9" fill="#e8334e"/>
<text x="15.8" y="833.4" font-size="23" font-weight="bold" fill="#333" text-anchor="start" textLength="28" lengthAdjust="spacingAndGlyphs" >PC</text>
<text x="43.2" y="833.4" font-size="23" font-weight="normal" fill="#555" text-anchor="start" textLength="46.5" lengthAdjust="spacingAndGlyphs" stroke="#fff" stroke-width="0.6">Bolsa</text>
<line x1="1326.5" y1="652.5" x2="1326.5" y2="852.5" stroke="#222" stroke-width="1.2"/>
<text x="1328" y="691" font-size="11" font-weight="bold" fill="#f03030" text-anchor="start" >70</text>
<rect x="1325.7" y="686.9" width="45.9" height="13.6" fill="#000"/>
<text x="1328" y="697.7" font-size="11" font-weight="bold" fill="#fff" text-anchor="start" textLength="35.5" lengthAdjust="spacingAndGlyphs" >66,072</text>
<text x="1328" y="716.6" font-size="11" font-weight="bold" fill="#222" text-anchor="start" >50</text>
<text x="1328" y="740.2" font-size="11" font-weight="bold" fill="#2a9a2a" text-anchor="start" >30</text>
<text x="1328" y="777.4" font-size="11" font-weight="bold" fill="#f03030" text-anchor="start" >80</text>
<rect x="1325.7" y="799" width="45.9" height="14" fill="#000"/>
<text x="1328" y="810" font-size="11" font-weight="bold" fill="#fff" text-anchor="start" textLength="35.5" lengthAdjust="spacingAndGlyphs" >47,312</text>
<text x="1328" y="837.2" font-size="11" font-weight="bold" fill="#2a9a2a" text-anchor="start" >20</text>
<rect x="2" y="856" width="59.8" height="31.7" rx="2.5" fill="#d9503f"/>
<text x="10.4" y="876.4" font-size="12" font-weight="bold" fill="#fff" text-anchor="start" textLength="43.5" lengthAdjust="spacingAndGlyphs" >CONFG.</text>
<text x="81.2" y="874.7" font-size="13" font-weight="bold" fill="#111" text-anchor="start" textLength="10.7" lengthAdjust="spacingAndGlyphs" >BI</text>
<path d="M114 867.8 L121 867.8 L117.5 872.5 Z" fill="#888"/>
<text x="144.2" y="876.5" font-size="14" font-weight="normal" fill="#222" text-anchor="start" textLength="16.1" lengthAdjust="spacingAndGlyphs" >All</text>
<text x="172.7" y="876.5" font-size="14" font-weight="normal" fill="#222" text-anchor="start" textLength="22.5" lengthAdjust="spacingAndGlyphs" >10A</text>
<text x="208.5" y="876.5" font-size="14" font-weight="normal" fill="#222" text-anchor="start" textLength="16.5" lengthAdjust="spacingAndGlyphs" >5A</text>
<text x="240.5" y="876.5" font-size="14" font-weight="normal" fill="#222" text-anchor="start" textLength="15.5" lengthAdjust="spacingAndGlyphs" >2A</text>
<text x="273" y="876.5" font-size="14" font-weight="normal" fill="#222" text-anchor="start" textLength="14.3" lengthAdjust="spacingAndGlyphs" >1A</text>
<text x="308.5" y="876.5" font-size="14" font-weight="normal" fill="#222" text-anchor="start" textLength="8.5" lengthAdjust="spacingAndGlyphs" >A</text>
<text x="334.6" y="876.5" font-size="14" font-weight="normal" fill="#222" text-anchor="start" textLength="19.8" lengthAdjust="spacingAndGlyphs" >6M</text>
<text x="363.7" y="876.5" font-size="14" font-weight="normal" fill="#222" text-anchor="start" textLength="24.7" lengthAdjust="spacingAndGlyphs" >60D</text>
<text x="395.5" y="876.5" font-size="14" font-weight="normal" fill="#222" text-anchor="start" textLength="24.9" lengthAdjust="spacingAndGlyphs" >30D</text>
<text x="428.9" y="876.5" font-size="14" font-weight="normal" fill="#222" text-anchor="start" textLength="22.7" lengthAdjust="spacingAndGlyphs" >15D</text>
<text x="464" y="876.5" font-size="14" font-weight="normal" fill="#222" text-anchor="start" textLength="17" lengthAdjust="spacingAndGlyphs" >5D</text>
<text x="495.5" y="876.5" font-size="14" font-weight="normal" fill="#222" text-anchor="start" textLength="17.5" lengthAdjust="spacingAndGlyphs" >2D</text>
<text x="528.6" y="876.5" font-size="14" font-weight="normal" fill="#222" text-anchor="start" textLength="15.6" lengthAdjust="spacingAndGlyphs" >1D</text>
<text x="1374.9" y="878.3" font-size="17" font-weight="bold" fill="#111" text-anchor="end" textLength="80" lengthAdjust="spacingAndGlyphs" >1.055.334</text></svg></body></html>
